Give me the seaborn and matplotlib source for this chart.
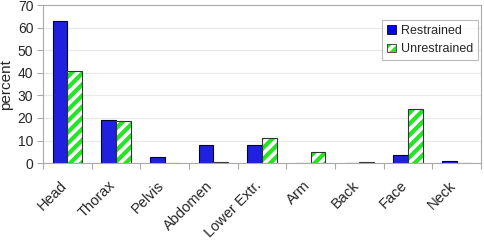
import numpy as np
import pandas as pd
import matplotlib
matplotlib.use("Agg")
import matplotlib.pyplot as plt
from matplotlib.patches import Rectangle, Patch
import seaborn as sns

# values
regions = ["Head", "Thorax", "Pelvis", "Abdomen", "Lower Extr.", "Arm", "Back", "Face", "Neck"]
restrained = [63, 19, 2.5, 8, 8, 0, 0, 3.8, 1]
unrestrained = [41, 18.5, 0, 0.5, 11, 4.7, 0.5, 23.8, 0]
groups = ["Restrained", "Unrestrained"]

df = pd.DataFrame({
    "region": regions * 2,
    "group": [groups[0]] * len(regions) + [groups[1]] * len(regions),
    "percent": restrained + unrestrained,
})

sns.set_style("white")
plt.rcParams['font.family'] = ['Liberation Sans', 'DejaVu Sans']
plt.rcParams['hatch.linewidth'] = 3.0

blue = "#0000ff"
green = "#22e622"
edge = "#333333"

fig = plt.figure(figsize=(4.84, 2.42), dpi=100)
ax = fig.add_axes([0.089, 0.326, 0.905, 0.653])

sns.barplot(data=df, x="region", y="percent", hue="group", order=regions,
            hue_order=groups, palette=[blue, "white"], width=0.6, gap=0,
            edgecolor=edge, linewidth=0.8, ax=ax, legend=False)

# hatch the unrestrained bars: green stripes under a dark outline
n = len(regions)
for p in ax.patches[n:2 * n]:
    p.set_hatch("///")
    p.set_edgecolor(green)
    p.set_linewidth(0)
    ax.add_patch(Rectangle(p.get_xy(), p.get_width(), p.get_height(),
                           fill=False, edgecolor=edge, linewidth=0.8,
                           zorder=p.get_zorder() + 0.1))
for p in ax.patches[:n]:
    p.set_edgecolor("#000033")

ax.set_ylim(0, 70)
ax.set_xlim(-0.5, n - 0.5)
ax.set_yticks(range(0, 71, 10))
ax.yaxis.grid(True, color="#e8e8e8", linewidth=0.8)
ax.set_axisbelow(True)
ax.set_xlabel("")
ax.set_ylabel("percent", fontsize=11)
ax.yaxis.set_label_coords(-0.068, 0.5)

# labels sit a little left of the category centre, rotated 45 degrees
ax.set_xticks(np.arange(n) - 0.16)
ax.set_xticklabels(regions, rotation=45, ha="right", rotation_mode="anchor", fontsize=10.5)
ax.set_xticks(np.arange(-0.5, n, 1.0), minor=True)
ax.tick_params(axis="x", which="major", length=0, pad=11)
ax.tick_params(axis="x", which="minor", length=4, color="#aaaaaa", width=0.8, bottom=True)
ax.tick_params(axis="y", length=4, color="#aaaaaa", width=0.8, labelsize=10, left=True, pad=3)

for s in ["top", "right", "left", "bottom"]:
    ax.spines[s].set_color("#aaaaaa")
    ax.spines[s].set_linewidth(0.8)

h_res = Patch(facecolor=blue, edgecolor="#000033", linewidth=0.6)
h_unres = (Patch(facecolor="white", edgecolor=green, hatch="///", linewidth=0),
           Patch(facecolor="none", edgecolor=edge, linewidth=0.6))
leg = ax.legend([h_res, h_unres], groups, loc="upper right", bbox_to_anchor=(0.993, 0.905),
                borderaxespad=0, fontsize=9, frameon=True, fancybox=False,
                handlelength=0.7, handleheight=0.7, handletextpad=0.4,
                borderpad=0.4, labelspacing=0.5)
leg.get_frame().set_edgecolor("#aaaaaa")
leg.get_frame().set_linewidth(0.8)

fig.savefig("out.png", dpi=100)
